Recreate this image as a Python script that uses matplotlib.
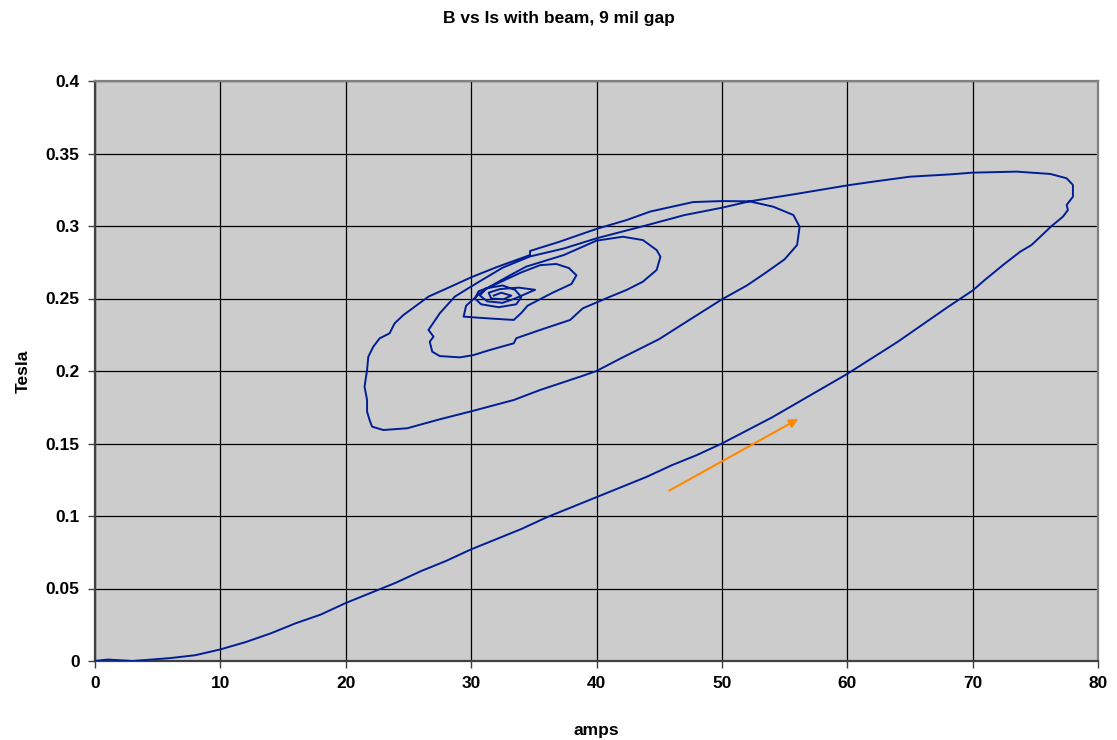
#!/usr/bin/env python3
"""B vs Is with beam, 9 mil gap: hysteresis-style spiral of field vs. current."""

import matplotlib

matplotlib.use("Agg")
import matplotlib.pyplot as plt

# --- Data ------------------------------------------------------------------ #
# rising branch -> outer turn -> spiral inward
amps = [
    0, 1, 3, 6, 8, 10, 12, 14, 16, 18, 20, 22, 24, 26, 28, 30, 32, 34, 36, 38,
    40, 42, 44, 46, 48, 50, 52, 54, 56, 58, 60, 62, 64, 66, 68, 70, 71, 72.6,
    73.8, 74.7, 76.3, 77.2, 77.6, 77.5, 78.0, 78.0, 77.5, 76.2, 73.5, 70, 68.2,
    65, 62, 60, 57.8, 55.7, 52.2, 50, 47.7, 44.3, 42.4, 40, 37, 34.7, 34.7,
    32, 30.0, 28.2, 26.6, 24.6, 23.9, 23.5, 22.7, 22.2, 21.8, 21.7, 21.5, 21.7,
    21.7, 21.9, 22.1, 23.0, 24.9, 27.5, 30.1, 33.4, 35.5, 38.7, 40, 42, 45, 47,
    50, 52, 53.5, 55.0, 55.7, 56.0, 56.2, 55.7, 54.1, 52.2, 50, 47, 44.3, 40,
    37.4, 34.7, 32.5, 30.2, 28.7, 27.5, 26.6, 27.0, 26.7, 26.9, 27.5, 29.1,
    30.2, 31.5, 33.4, 33.6, 35.5, 37.9, 38.9, 41.1, 42.4, 43.7, 44.8, 45.1,
    44.8, 43.7, 42.1, 40, 37.4, 34.4, 33.1, 31.5, 30.7, 29.6, 29.4, 31.0, 33.4,
    34.0, 34.5, 36.5, 38.0, 38.4, 37.8, 36.8, 35.5, 34.0, 32.5, 31.5, 30.6,
    30.3, 30.8, 32.2, 33.6, 34.0, 33.5, 32.5, 31.2, 30.7, 31.3, 32.5, 33.5,
    35.1, 33.8, 32.3, 31.4, 31.6, 32.6, 33.2, 32.4, 31.8,
]
tesla = [
    0.000, 0.001, 0.000, 0.002, 0.004, 0.008, 0.013, 0.019, 0.026, 0.032,
    0.040, 0.047, 0.054, 0.062, 0.069, 0.077, 0.084, 0.091, 0.099, 0.106,
    0.113, 0.120, 0.127, 0.135, 0.142, 0.150, 0.159, 0.168, 0.178, 0.188,
    0.198, 0.209, 0.220, 0.232, 0.244, 0.2555, 0.263, 0.2743, 0.2823, 0.2869,
    0.300, 0.3064, 0.311, 0.3145, 0.3202, 0.3283, 0.3329, 0.3359, 0.3375,
    0.3368, 0.3356, 0.334, 0.3305, 0.328, 0.3248, 0.3218, 0.317, 0.3172,
    0.3165, 0.310, 0.3041, 0.298, 0.289, 0.2828, 0.280, 0.2715, 0.2646,
    0.2575, 0.2513, 0.2386, 0.2329, 0.226, 0.2225, 0.2168, 0.2099, 0.2007,
    0.1892, 0.180, 0.172, 0.1662, 0.1616, 0.1593, 0.1605, 0.1667, 0.1724,
    0.180, 0.1869, 0.1961, 0.200, 0.209, 0.222, 0.233, 0.2494, 0.259, 0.2678,
    0.277, 0.2839, 0.2869, 0.2995, 0.3076, 0.3133, 0.317, 0.3126, 0.3075,
    0.3012, 0.2915, 0.2845, 0.279, 0.2712, 0.2593, 0.2513, 0.2398, 0.2283,
    0.2237, 0.2202, 0.2133, 0.2103, 0.2094, 0.211, 0.2145, 0.2191, 0.2226,
    0.2283, 0.2352, 0.2432, 0.2513, 0.2559, 0.2616, 0.2697, 0.2788, 0.2834,
    0.2903, 0.2926, 0.2899, 0.280, 0.272, 0.266, 0.2582, 0.2536, 0.245,
    0.2375, 0.2365, 0.2352, 0.240, 0.245, 0.254, 0.260, 0.266, 0.271, 0.2738,
    0.273, 0.268, 0.262, 0.258, 0.255, 0.250, 0.246, 0.244, 0.246, 0.251,
    0.256, 0.259, 0.257, 0.252, 0.248, 0.247, 0.250, 0.256, 0.2575, 0.2565,
    0.254, 0.250, 0.2495, 0.252, 0.254, 0.252,
]

# direction arrow (tail -> head), in data units
arrow_tail = (45.8, 0.1175)
arrow_head = (56.1, 0.1669)

x_ticks = list(range(0, 81, 10))
y_ticks = [0, 0.05, 0.1, 0.15, 0.2, 0.25, 0.3, 0.35, 0.4]
y_tick_labels = ["0", "0.05", "0.1", "0.15", "0.2", "0.25", "0.3", "0.35", "0.4"]

plt.rcParams["font.family"] = ["Liberation Sans", "DejaVu Sans"]

fig = plt.figure(figsize=(11.17, 7.40), dpi=100)
ax = fig.add_axes([95 / 1117, 1 - 661 / 740, (1098 - 95) / 1117, (661 - 81) / 740])
ax.set_facecolor("#CCCCCC")

ax.plot(amps, tesla, color="#001E96", linewidth=1.4, zorder=3)

ax.annotate("", xy=arrow_head, xytext=arrow_tail,
            arrowprops=dict(arrowstyle="-|>", color="#FF8A00", lw=1.5,
                            mutation_scale=13, shrinkA=0, shrinkB=0),
            zorder=4)

ax.set_xlim(0, 80)
ax.set_ylim(0, 0.4)
ax.set_xticks(x_ticks)
ax.set_yticks(y_ticks)
ax.set_yticklabels(y_tick_labels)
ax.tick_params(direction="out", length=5, width=1, color="#404040",
               labelsize=12.5, pad=6)
for lab in ax.get_xticklabels() + ax.get_yticklabels():
    lab.set_fontweight("bold")

ax.grid(True, color="black", linewidth=0.9, zorder=1)
ax.set_axisbelow(True)
for side in ["top", "right"]:
    ax.spines[side].set_color("#808080")
    ax.spines[side].set_linewidth(1.6)
for side in ["left", "bottom"]:
    ax.spines[side].set_color("#404040")
    ax.spines[side].set_linewidth(1.6)

ax.set_xlabel("amps", fontsize=12.5, fontweight="bold", labelpad=23)
ax.set_ylabel("Tesla", fontsize=12.5, fontweight="bold", labelpad=11)
fig.text(0.5, 1 - 18 / 740, "B vs Is with beam, 9 mil gap", ha="center", va="center",
         fontsize=12.5, fontweight="bold")

fig.savefig("out.png", dpi=100)
